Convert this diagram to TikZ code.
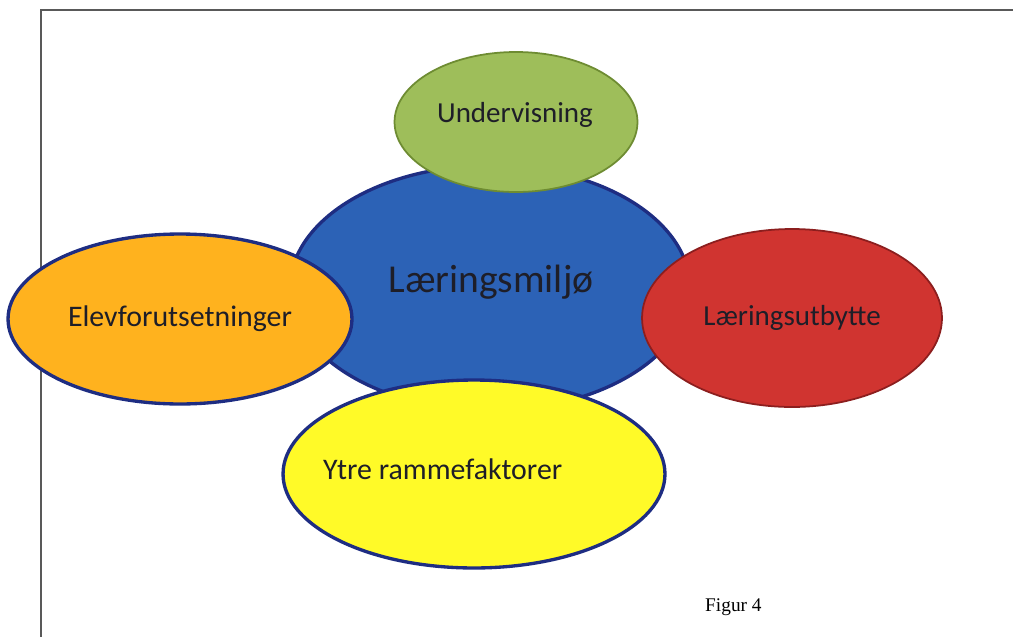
\documentclass[tikz,border=0pt]{standalone}
\usepackage{fontspec}
\setmainfont{Carlito}
\newfontfamily\figfont{Liberation Serif}
\usepackage{tikz}
\usetikzlibrary{shapes.geometric, positioning}

\definecolor{undgreen}{RGB}{158,190,90}
\definecolor{undline}{RGB}{110,140,50}
\definecolor{miljoblue}{RGB}{44,98,182}
\definecolor{navyline}{RGB}{30,45,130}
\definecolor{elevorange}{RGB}{255,178,30}
\definecolor{utbred}{RGB}{208,52,48}
\definecolor{utbline}{RGB}{140,30,30}
\definecolor{ytreyellow}{RGB}{255,250,40}
\definecolor{textdark}{RGB}{30,30,40}

\tikzset{
  bubble/.style={ellipse, inner sep=0pt, line width=1.9pt, text=textdark},
  frameline/.style={line width=1pt, draw=black!65}
}

\begin{document}
\begin{tikzpicture}[x=0.02cm, y=-0.02cm]
	\useasboundingbox (0,0) rectangle (1013,636);
	\fill[white] (0,0) rectangle (1013,636);
	\draw[frameline] (41,640) -- (41,10) -- (1020,10);

	\node[bubble, fill=miljoblue, draw=navyline, minimum width=8cm, minimum height=4.9cm] (miljo) at (490,288) {};
	\node[text=textdark, font=\fontsize{22.5}{26}\selectfont] (miljotext) at (491,282) {Læringsmiljø};

	\node[bubble, fill=undgreen, draw=undline, line width=1pt, minimum width=4.86cm, minimum height=2.8cm] (und) at (516,122) {};
	\node[text=textdark, font=\fontsize{16.5}{19}\selectfont] (undtext) at (515,115) {Undervisning};
	\node[bubble, fill=elevorange, draw=navyline, minimum width=6.88cm, minimum height=3.4cm, font=\fontsize{17}{20}\selectfont] (elev) at (180,319) {Elevforutsetninger};
	\node[bubble, fill=utbred, draw=utbline, line width=1pt, minimum width=6cm, minimum height=3.56cm, font=\fontsize{16.5}{19}\selectfont] (utb) at (792,318) {Læringsutbytte};
	\node[bubble, fill=ytreyellow, draw=navyline, minimum width=7.64cm, minimum height=3.76cm] (ytre) at (474,474) {};
	\node[anchor=west, text=textdark, font=\fontsize{17}{20}\selectfont] (ytretext) at (317,469) {Ytre rammefaktorer};

	\node[anchor=west, font=\figfont\fontsize{11}{13}\selectfont] (figur) at (699,607) {Figur 4};
\end{tikzpicture}
\end{document}
